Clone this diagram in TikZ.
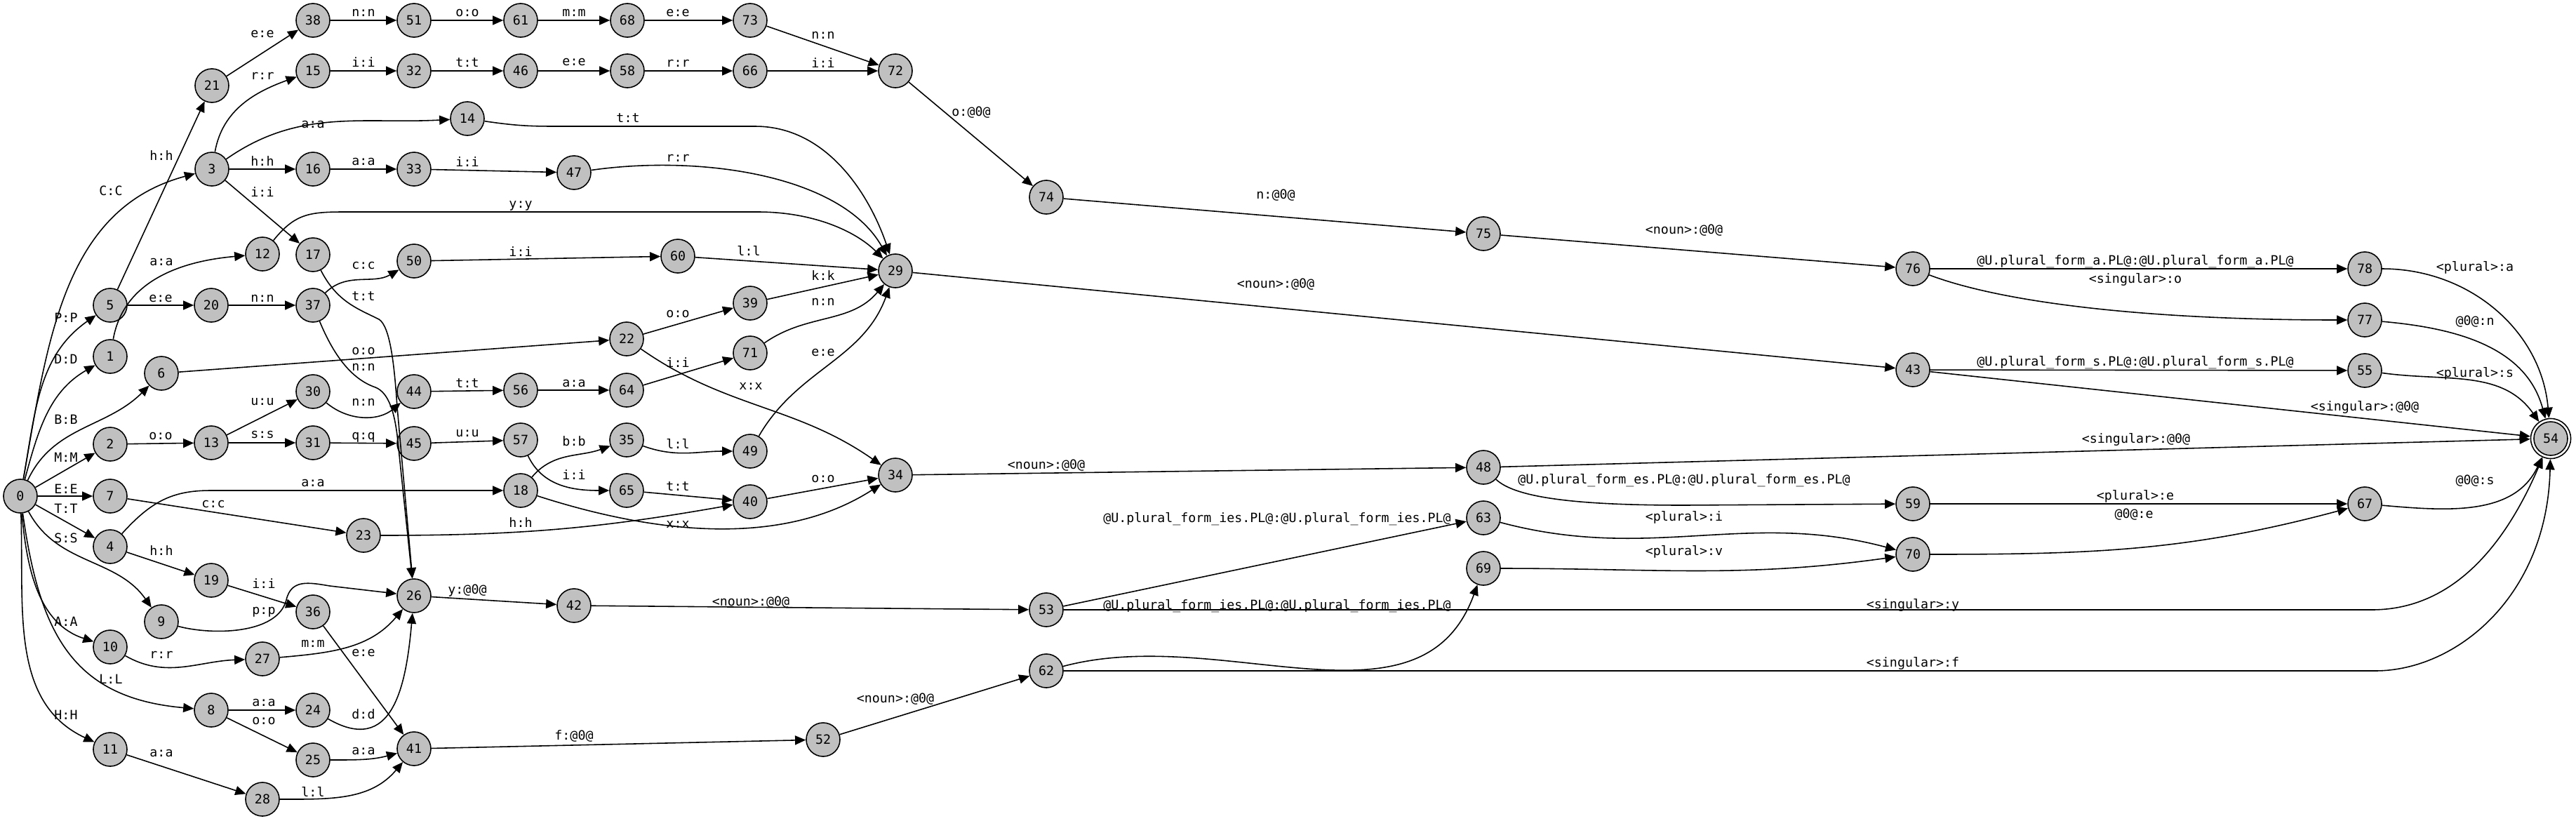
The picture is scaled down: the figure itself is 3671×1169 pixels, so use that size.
\documentclass[tikz,border=0pt]{standalone}
\usepackage{fontspec}
\usetikzlibrary{arrows.meta}
\newfontfamily\dvm{DejaVu Sans Mono}
\newcommand\lblf{\fontsize{5.2pt}{6pt}\selectfont\dvm}
\definecolor{nodegray}{RGB}{192,192,192}
\tikzset{
  st/.style={circle, draw=black, fill=nodegray, line width=0.45pt, minimum size=0.48cm, inner sep=0pt, font=\lblf},
  ed/.style={-{Triangle[length=4.3pt,width=3.7pt]}, line width=0.45pt},
  lb/.style={font=\lblf, inner sep=0pt},
}
\begin{document}
\begin{tikzpicture}[x=0.01cm,y=0.01cm]
\useasboundingbox (0,0) rectangle (3671,-1169);
% states
\node[st] (n0) at (29,-707) {0};
\node[st] (n1) at (157,-508) {1};
\node[st] (n2) at (157,-633) {2};
\node[st] (n3) at (302,-241) {3};
\node[st] (n4) at (157,-779) {4};
\node[st] (n5) at (157,-435) {5};
\node[st] (n6) at (230,-532) {6};
\node[st] (n7) at (157,-707) {7};
\node[st] (n8) at (301,-1012) {8};
\node[st] (n9) at (230,-886) {9};
\node[st] (n10) at (157,-922) {10};
\node[st] (n11) at (157,-1068) {11};
\node[st] (n12) at (374,-362) {12};
\node[st] (n13) at (301,-631) {13};
\node[st] (n14) at (666,-169) {14};
\node[st] (n15) at (446,-101) {15};
\node[st] (n16) at (446,-241) {16};
\node[st] (n17) at (446,-363) {17};
\node[st] (n18) at (742,-699) {18};
\node[st] (n19) at (301,-827) {19};
\node[st] (n20) at (301,-435) {20};
\node[st] (n21) at (302,-122) {21};
\node[st] (n22) at (893,-483) {22};
\node[st] (n23) at (518,-763) {23};
\node[st] (n24) at (446,-1012) {24};
\node[st] (n25) at (446,-1083) {25};
\node[st] (n26) at (590,-849) {26};
\node[st] (n27) at (374,-939) {27};
\node[st] (n28) at (374,-1139) {28};
\node[st] (n29) at (1276,-386) {29};
\node[st] (n30) at (446,-558) {30};
\node[st] (n31) at (446,-631) {31};
\node[st] (n32) at (590,-101) {32};
\node[st] (n33) at (590,-241) {33};
\node[st] (n34) at (1276,-677) {34};
\node[st] (n35) at (893,-627) {35};
\node[st] (n36) at (446,-872) {36};
\node[st] (n37) at (446,-435) {37};
\node[st] (n38) at (446,-29) {38};
\node[st] (n39) at (1069,-432) {39};
\node[st] (n40) at (1069,-715) {40};
\node[st] (n41) at (590,-1067) {41};
\node[st] (n42) at (818,-863) {42};
\node[st] (n43) at (2726,-527) {43};
\node[st] (n44) at (590,-558) {44};
\node[st] (n45) at (590,-632) {45};
\node[st] (n46) at (742,-101) {46};
\node[st] (n47) at (818,-246) {47};
\node[st] (n48) at (2114,-666) {48};
\node[st] (n49) at (1069,-643) {49};
\node[st] (n50) at (590,-372) {50};
\node[st] (n51) at (590,-29) {51};
\node[st] (n52) at (1173,-1054) {52};
\node[st] (n53) at (1491,-869) {53};
\node[circle, draw=black, fill=white, line width=0.45pt, minimum size=0.57cm, inner sep=0pt] (n54) at (3635,-625) {};
\node[st] (n54i) at (3635,-625) {54};
\node[st] (n55) at (3370,-528) {55};
\node[st] (n56) at (742,-556) {56};
\node[st] (n57) at (742,-627) {57};
\node[st] (n58) at (894,-101) {58};
\node[st] (n59) at (2726,-718) {59};
\node[st] (n60) at (966,-365) {60};
\node[st] (n61) at (742,-29) {61};
\node[st] (n62) at (1491,-956) {62};
\node[st] (n63) at (2114,-738) {63};
\node[st] (n64) at (893,-556) {64};
\node[st] (n65) at (893,-699) {65};
\node[st] (n66) at (1069,-101) {66};
\node[st] (n67) at (3370,-718) {67};
\node[st] (n68) at (894,-29) {68};
\node[st] (n69) at (2114,-810) {69};
\node[st] (n70) at (2726,-790) {70};
\node[st] (n71) at (1069,-503) {71};
\node[st] (n72) at (1276,-101) {72};
\node[st] (n73) at (1069,-29) {73};
\node[st] (n74) at (1491,-281) {74};
\node[st] (n75) at (2114,-333) {75};
\node[st] (n76) at (2726,-383) {76};
\node[st] (n77) at (3370,-456) {77};
\node[st] (n78) at (3370,-383) {78};
% transitions from 0
\draw[ed] (n0) to[out=80,in=195] (n3);
\draw[ed] (n0) to[out=80,in=215] (n5);
\draw[ed] (n0) to[out=75,in=210] (n1);
\draw[ed] (n0) to[out=65,in=225] (n6);
\draw[ed] (n0) -- (n2);
\draw[ed] (n0) -- (n7);
\draw[ed] (n0) -- (n4);
\draw[ed] (n0) to[out=-62,in=125] (n9);
\draw[ed] (n0) to[out=-85,in=162] (n10);
\draw[ed] (n0) to[out=-82,in=175,looseness=1.2] (n8);
\draw[ed] (n0) to[out=-88,in=155] (n11);
% upper branches
\draw[ed] (n5) -- (n21);
\draw[ed] (n5) -- (n20);
\draw[ed] (n20) -- (n37);
\draw[ed] (n37) to[out=45,in=210] (n50);
\draw[ed] (n50) -- (n60);
\draw[ed] (n60) -- (n29);
\draw[ed] (n1) to[out=80,in=185] (n12);
\draw[ed] (n21) -- (n38);
\draw[ed] (n38) -- (n51);
\draw[ed] (n51) -- (n61);
\draw[ed] (n61) -- (n68);
\draw[ed] (n68) -- (n73);
\draw[ed] (n73) -- (n72);
\draw[ed] (n3) to[out=80,in=200] (n15);
\draw[ed] (n15) -- (n32);
\draw[ed] (n32) -- (n46);
\draw[ed] (n46) -- (n58);
\draw[ed] (n58) -- (n66);
\draw[ed] (n66) -- (n72);
\draw[ed] (n72) -- (n74);
\draw[ed] (n74) -- (n75);
\draw[ed] (n75) -- (n76);
\draw[ed] (n76) -- (n78);
\draw[ed] (n76) .. controls (2850,-430) and (3050,-456) .. (n77);
\draw[ed] (n78) to[out=0,in=95] (n54);
\draw[ed] (n77) to[out=-5,in=105] (n54);
\draw[ed] (n3) to[out=35,in=183] (n14);
\draw[ed] (n3) -- (n16);
\draw[ed] (n3) -- (n17);
\draw[ed] (n16) -- (n33);
\draw[ed] (n33) -- (n47);
\draw[ed] (n14) .. controls (740,-180) and (760,-180) .. (800,-180) -- (1076,-180) .. controls (1180,-180) and (1240,-280) .. (n29);
\draw[ed] (n47) .. controls (1000,-220) and (1200,-250) .. (n29);
\draw[ed] (n12) .. controls (420,-305) and (440,-302) .. (490,-302) -- (1080,-302) .. controls (1160,-302) and (1220,-330) .. (n29);
\draw[ed] (n17) .. controls (480,-430) and (510,-440) .. (540,-455) .. controls (556,-465) and (562,-520) .. (566,-580) -- (n26);
\draw[ed] (n37) .. controls (475,-505) and (500,-540) .. (535,-552) .. controls (555,-560) and (562,-590) .. (566,-620) -- (n26);
\draw[ed] (n29) -- (n43);
\draw[ed] (n43) -- (n55);
\draw[ed] (n43) -- (n54);
\draw[ed] (n55) to[out=-8,in=125] (n54);
% middle branches
\draw[ed] (n6) -- (n22);
\draw[ed] (n22) -- (n39);
\draw[ed] (n39) -- (n29);
\draw[ed] (n22) to[out=-35,in=145] (n34);
\draw[ed] (n2) -- (n13);
\draw[ed] (n13) -- (n30);
\draw[ed] (n13) -- (n31);
\draw[ed] (n30) to[out=-40,in=220] (n44);
\draw[ed] (n31) -- (n45);
\draw[ed] (n44) -- (n56);
\draw[ed] (n56) -- (n64);
\draw[ed] (n64) -- (n71);
\draw[ed] (n71) to[out=35,in=230] (n29);
\draw[ed] (n45) -- (n57);
\draw[ed] (n57) to[out=-65,in=180] (n65);
\draw[ed] (n65) -- (n40);
\draw[ed] (n40) -- (n34);
\draw[ed] (n7) -- (n23);
\draw[ed] (n23) to[out=0,in=190] (n40);
\draw[ed] (n4) .. controls (215,-715) and (245,-699) .. (300,-699) -- (n18);
\draw[ed] (n18) to[out=50,in=200] (n35);
\draw[ed] (n35) to[out=-20,in=180] (n49);
\draw[ed] (n49) to[out=60,in=250] (n29);
\draw[ed] (n18) .. controls (900,-750) and (1100,-790) .. (n34);
\draw[ed] (n34) -- (n48);
\draw[ed] (n48) .. controls (2160,-710) and (2250,-720) .. (2400,-720) -- (n59);
\draw[ed] (n48) -- (n54);
\draw[ed] (n59) -- (n67);
\draw[ed] (n67) to[out=-5,in=245] (n54);
% lower branches
\draw[ed] (n4) -- (n19);
\draw[ed] (n19) -- (n36);
\draw[ed] (n36) -- (n41);
\draw[ed] (n9) .. controls (300,-905) and (395,-905) .. (408,-855) .. controls (415,-825) and (440,-830) .. (470,-835) -- (n26);
\draw[ed] (n10) to[out=-30,in=182] (n27);
\draw[ed] (n27) to[out=5,in=230] (n26);
\draw[ed] (n8) -- (n24);
\draw[ed] (n8) -- (n25);
\draw[ed] (n24) to[out=-30,in=265,looseness=1.4] (n26);
\draw[ed] (n25) to[out=0,in=195] (n41);
\draw[ed] (n11) -- (n28);
\draw[ed] (n28) to[out=0,in=230] (n41);
\draw[ed] (n26) -- (n42);
\draw[ed] (n42) -- (n53);
\draw[ed] (n41) -- (n52);
\draw[ed] (n52) -- (n62);
\draw[ed] (n53) -- (n63);
\draw[ed] (n53) -- (3380,-869) .. controls (3480,-869) and (3560,-800) .. (n54);
\draw[ed] (n62) to[out=15,in=250] (n69);
\draw[ed] (n62) -- (3385,-956) .. controls (3500,-956) and (3630,-850) .. (n54);
\draw[ed] (n63) to[out=-15,in=165] (n70);
\draw[ed] (n69) to[out=0,in=188] (n70);
\draw[ed] (n70) to[out=0,in=195] (n67);
% labels
\node[lb] (l0-3) at (158,-272) {C:C};
\node[lb] (l0-5) at (94,-453) {P:P};
\node[lb] (l0-1) at (94,-512) {D:D};
\node[lb] (l0-6) at (94,-598) {B:B};
\node[lb] (l0-2) at (94,-652) {M:M};
\node[lb] (l0-7) at (94,-697) {E:E};
\node[lb] (l0-4) at (94,-725) {T:T};
\node[lb] (l0-9) at (94,-767) {S:S};
\node[lb] (l0-10) at (94,-886) {A:A};
\node[lb] (l0-8) at (158,-968) {L:L};
\node[lb] (l0-11) at (94,-1019) {H:H};
\node[lb] (l5-21) at (230,-222) {h:h};
\node[lb] (l5-20) at (229,-425) {e:e};
\node[lb] (l1-12) at (230,-373) {a:a};
\node[lb] (l21-38) at (374,-48) {e:e};
\node[lb] (l3-15) at (374,-108) {r:r};
\node[lb] (l3-14) at (446,-177) {a:a};
\node[lb] (l3-16) at (374,-230) {h:h};
\node[lb] (l3-17) at (374,-274) {i:i};
\node[lb] (l38-51) at (518,-18) {n:n};
\node[lb] (l51-61) at (666,-18) {o:o};
\node[lb] (l61-68) at (818,-18) {m:m};
\node[lb] (l68-73) at (966,-18) {e:e};
\node[lb] (l73-72) at (1173,-50) {n:n};
\node[lb] (l15-32) at (518,-89) {i:i};
\node[lb] (l32-46) at (666,-89) {t:t};
\node[lb] (l46-58) at (818,-89) {e:e};
\node[lb] (l58-66) at (966,-90) {r:r};
\node[lb] (l66-72) at (1173,-90) {i:i};
\node[lb] (l72-74) at (1384,-160) {o:@0@};
\node[lb] (l74-75) at (1818,-278) {n:@0@};
\node[lb] (l75-76) at (2400,-328) {<noun>:@0@};
\node[lb] (l29-43) at (1818,-405) {<noun>:@0@};
\node[lb] (l14-29) at (895,-168) {t:t};
\node[lb] (l16-33) at (518,-230) {a:a};
\node[lb] (l33-47) at (666,-231) {i:i};
\node[lb] (l47-29) at (966,-225) {r:r};
\node[lb] (l12-29) at (742,-293) {y:y};
\node[lb] (l50-60) at (742,-359) {i:i};
\node[lb] (l60-29) at (1067,-357) {l:l};
\node[lb] (l37-50) at (518,-378) {c:c};
\node[lb] (l17-26) at (518,-422) {t:t};
\node[lb] (l20-37) at (374,-425) {n:n};
\node[lb] (l6-22) at (518,-500) {o:o};
\node[lb] (l37-26) at (518,-523) {n:n};
\node[lb] (l44-56) at (666,-546) {t:t};
\node[lb] (l56-64) at (818,-546) {a:a};
\node[lb] (l13-30) at (374,-573) {u:u};
\node[lb] (l30-44) at (518,-573) {n:n};
\node[lb] (l2-13) at (229,-621) {o:o};
\node[lb] (l13-31) at (374,-619) {s:s};
\node[lb] (l31-45) at (518,-623) {q:q};
\node[lb] (l45-57) at (666,-618) {u:u};
\node[lb] (l18-35) at (818,-629) {b:b};
\node[lb] (l57-65) at (818,-677) {i:i};
\node[lb] (l4-18) at (446,-688) {a:a};
\node[lb] (l7-23) at (304,-718) {c:c};
\node[lb] (l23-40) at (742,-745) {h:h};
\node[lb] (l4-19) at (230,-785) {h:h};
\node[lb] (l19-36) at (376,-832) {i:i};
\node[lb] (l26-42) at (666,-842) {y:@0@};
\node[lb] (l9-26) at (376,-872) {p:p};
\node[lb] (l27-26) at (446,-917) {m:m};
\node[lb] (l36-41) at (518,-930) {e:e};
\node[lb] (l10-27) at (230,-933) {r:r};
\node[lb] (l8-24) at (376,-1001) {a:a};
\node[lb] (l24-26) at (518,-1018) {d:d};
\node[lb] (l8-25) at (376,-1027) {o:o};
\node[lb] (l41-52) at (818,-1049) {f:@0@};
\node[lb] (l25-41) at (518,-1070) {a:a};
\node[lb] (l11-28) at (230,-1073) {a:a};
\node[lb] (l28-41) at (446,-1128) {l:l};
\node[lb] (l39-29) at (1173,-393) {k:k};
\node[lb] (l71-29) at (1173,-430) {n:n};
\node[lb] (l22-39) at (966,-447) {o:o};
\node[lb] (l49-29) at (1173,-502) {e:e};
\node[lb] (l64-71) at (966,-517) {i:i};
\node[lb] (l22-34) at (1070,-550) {x:x};
\node[lb] (l35-49) at (966,-632) {l:l};
\node[lb] (l34-48) at (1491,-663) {<noun>:@0@};
\node[lb] (l40-34) at (1173,-682) {o:o};
\node[lb] (l65-40) at (966,-693) {t:t};
\node[lb] (l18-34) at (966,-747) {x:x};
\node[lb] (l42-53) at (1070,-858) {<noun>:@0@};
\node[lb] (l52-62) at (1276,-996) {<noun>:@0@};
\node[lb] (l53-63) at (1820,-740) {@U.plural\_form\_ies.PL@:@U.plural\_form\_ies.PL@};
\node[lb] (l62-69) at (1820,-864) {@U.plural\_form\_ies.PL@:@U.plural\_form\_ies.PL@};
\node[lb] (l48-59) at (2400,-685) {@U.plural\_form\_es.PL@:@U.plural\_form\_es.PL@};
\node[lb] (l63-70) at (2400,-737) {<plural>:i};
\node[lb] (l69-70) at (2400,-786) {<plural>:v};
\node[lb] (l76-78) at (3043,-373) {@U.plural\_form\_a.PL@:@U.plural\_form\_a.PL@};
\node[lb] (l76-77) at (3043,-398) {<singular>:o};
\node[lb] (l78-54) at (3527,-381) {<plural>:a};
\node[lb] (l77-54) at (3527,-458) {@0@:n};
\node[lb] (l43-55) at (3043,-517) {@U.plural\_form\_s.PL@:@U.plural\_form\_s.PL@};
\node[lb] (l55-54) at (3527,-532) {<plural>:s};
\node[lb] (l43-54) at (3370,-580) {<singular>:@0@};
\node[lb] (l48-54) at (3044,-626) {<singular>:@0@};
\node[lb] (l67-54) at (3527,-685) {@0@:s};
\node[lb] (l59-67) at (3043,-707) {<plural>:e};
\node[lb] (l70-67) at (3041,-733) {@0@:e};
\node[lb] (l53-54) at (2726,-862) {<singular>:y};
\node[lb] (l62-54) at (2726,-945) {<singular>:f};
\end{tikzpicture}
\end{document}
